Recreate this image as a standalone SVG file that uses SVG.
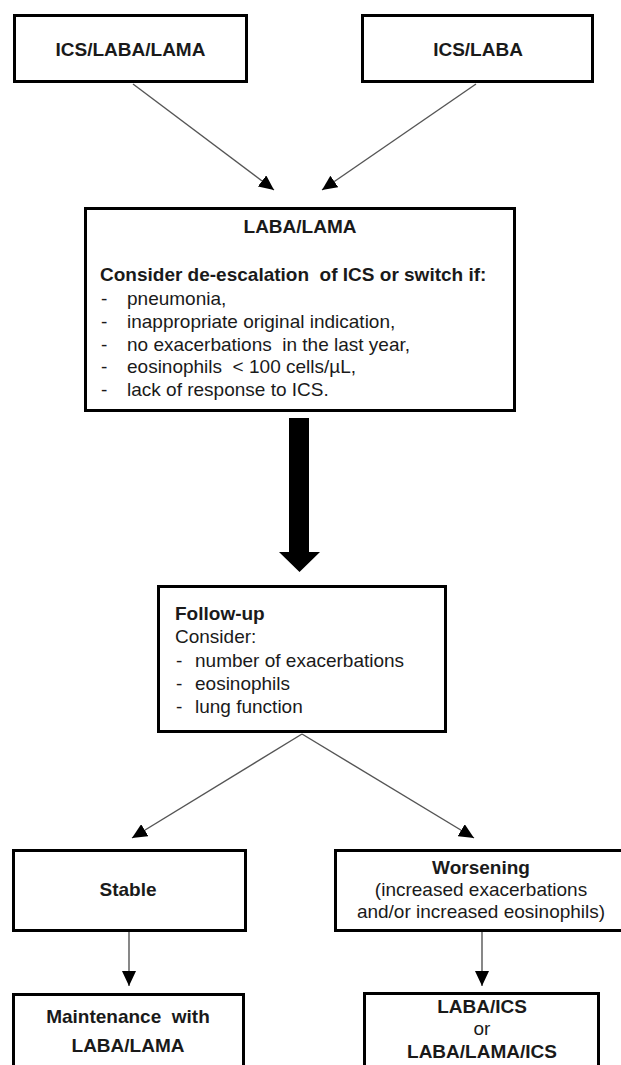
<svg xmlns="http://www.w3.org/2000/svg" width="621" height="1065" viewBox="0 0 621 1065">
<style>
.box{fill:#fff;stroke:#000;stroke-width:3}
.t{font-family:"Liberation Sans",Arial,sans-serif;font-size:19px;fill:#1a1a1a}
.b{font-weight:bold}
.m{text-anchor:middle}
.c{stroke:#555;stroke-width:1.4;fill:none;marker-end:url(#ah)}
</style>
<defs>
<marker id="ah" markerUnits="userSpaceOnUse" markerWidth="15" markerHeight="14" refX="15" refY="7" orient="auto">
<path d="M0,0 L15,7 L0,14 z" fill="#000"/>
</marker>
</defs>
<rect width="621" height="1065" fill="#fff"/>
<g id="connectors">
<line class="c" x1="133" y1="84" x2="274" y2="190"/>
<line class="c" x1="476" y1="84" x2="322" y2="190"/>
<polygon points="289,418 309,418 309,552 320,552 299.5,572 279,552 289,552" fill="#000"/>
<line class="c" x1="302" y1="734" x2="132" y2="838"/>
<line class="c" x1="302" y1="734" x2="474" y2="838"/>
<line class="c" x1="129" y1="932" x2="129" y2="986"/>
<line class="c" x1="482" y1="932" x2="482" y2="986"/>
</g>
<g id="n1">
<rect class="box" x="14.5" y="15.5" width="232" height="66"/>
<text class="t b m" x="130.5" y="56">ICS/LABA/LAMA</text>
</g>
<g id="n2">
<rect class="box" x="362.5" y="15.5" width="230" height="66"/>
<text class="t b m" x="478" y="56">ICS/LABA</text>
</g>
<g id="n3">
<rect class="box" x="85.5" y="208.5" width="429" height="202"/>
<text class="t b m" x="300" y="233">LABA/LAMA</text>
<text class="t b" x="100" y="281" xml:space="preserve">Consider de-escalation  of ICS or switch if:</text>
<text class="t" x="101" y="305">-</text><text class="t" x="127" y="305">pneumonia,</text>
<text class="t" x="101" y="328">-</text><text class="t" x="127" y="328">inappropriate original indication,</text>
<text class="t" x="101" y="351">-</text><text class="t" x="127" y="351" xml:space="preserve">no exacerbations  in the last year,</text>
<text class="t" x="101" y="373">-</text><text class="t" x="127" y="373" xml:space="preserve">eosinophils  &lt; 100 cells/µL,</text>
<text class="t" x="101" y="396">-</text><text class="t" x="127" y="396">lack of response to ICS.</text>
</g>
<g id="n4">
<rect class="box" x="158.5" y="586.5" width="287" height="145"/>
<text class="t b" x="175" y="620">Follow-up</text>
<text class="t" x="175" y="643">Consider:</text>
<text class="t" x="176" y="667">-</text><text class="t" x="195" y="667">number of exacerbations</text>
<text class="t" x="176" y="690">-</text><text class="t" x="195" y="690">eosinophils</text>
<text class="t" x="176" y="713">-</text><text class="t" x="195" y="713">lung function</text>
</g>
<g id="n5">
<rect class="box" x="13.5" y="850.5" width="232" height="80"/>
<text class="t b m" x="128" y="896">Stable</text>
</g>
<g id="n6">
<rect class="box" x="335.5" y="850.5" width="300" height="80"/>
<text class="t b m" x="481" y="874">Worsening</text>
<text class="t m" x="481" y="896">(increased exacerbations</text>
<text class="t m" x="481" y="918">and/or increased eosinophils)</text>
</g>
<g id="n7">
<rect class="box" x="13.5" y="994.5" width="230" height="90"/>
<text class="t b m" x="128" y="1023" xml:space="preserve">Maintenance  with</text>
<text class="t b m" x="128" y="1052">LABA/LAMA</text>
</g>
<g id="n8">
<rect class="box" x="364.5" y="993.5" width="234" height="90"/>
<text class="t b m" x="482" y="1013">LABA/ICS</text>
<text class="t m" x="482" y="1035">or</text>
<text class="t b m" x="482" y="1058">LABA/LAMA/ICS</text>
</g>
</svg>
